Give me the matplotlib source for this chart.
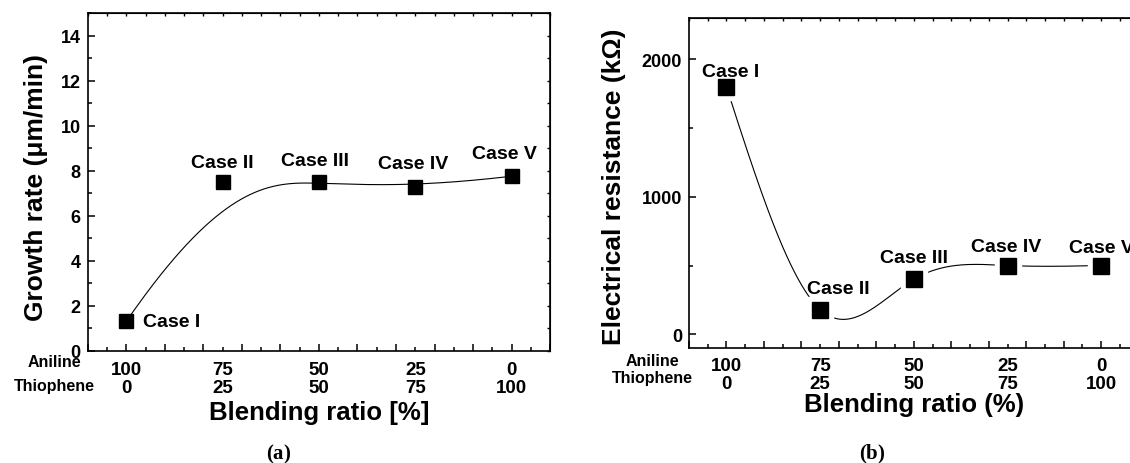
import numpy as np
import matplotlib.pyplot as plt
from matplotlib.ticker import MultipleLocator, NullFormatter

plt.rcParams['font.family'] = ['Liberation Sans', 'DejaVu Sans']
plt.rcParams['font.weight'] = 'bold'
plt.rcParams['mathtext.fontset'] = 'custom'
plt.rcParams['mathtext.rm'] = 'Liberation Serif'
plt.rcParams['mathtext.bf'] = 'Liberation Serif:bold'

# data
aniline = [100, 75, 50, 25, 0]
thiophene = [0, 25, 50, 75, 100]
cases = ['Case I', 'Case II', 'Case III', 'Case IV', 'Case V']
growth_rate = [1.3, 7.5, 7.5, 7.25, 7.75]        # um/min
resistance = [1800, 180, 400, 500, 500]           # kOhm

# where the case labels sit relative to their point (points)
offs_a = [(12, 0, 'left'), (0, 14, 'center'), (-3, 15.4, 'center'),
          (-1.7, 17.6, 'center'), (-5.4, 16.1, 'center')]
offs_b = [(3.2, 11.3), (13.3, 15.1), (0, 15.4), (-0.8, 13.5), (0, 13)]


def bspline_curve(xs, ys, n=300, k=3):
    # clamped cubic B-spline with the data points as control points
    pts = np.column_stack([xs, ys]).astype(float)
    m = len(pts)
    knots = np.concatenate([np.zeros(k), np.linspace(0, 1, m - k + 1), np.ones(k)])
    t = np.linspace(0, 1 - 1e-9, n)

    def N(i, p):
        if p == 0:
            return ((knots[i] <= t) & (t < knots[i + 1])).astype(float)
        out = np.zeros_like(t)
        d1 = knots[i + p] - knots[i]
        if d1 > 0:
            out += (t - knots[i]) / d1 * N(i, p - 1)
        d2 = knots[i + p + 1] - knots[i + 1]
        if d2 > 0:
            out += (knots[i + p + 1] - t) / d2 * N(i + 1, p - 1)
        return out

    B = np.array([N(i, k) for i in range(m)])
    c = B.T @ pts
    return c[:, 0], c[:, 1]


def natural_spline(xs, ys, n=300):
    x = np.asarray(xs, float)
    y = np.asarray(ys, float)
    o = np.argsort(x)
    x, y = x[o], y[o]
    h = np.diff(x)
    m = len(x)
    A = np.zeros((m, m))
    r = np.zeros(m)
    A[0, 0] = A[-1, -1] = 1
    for i in range(1, m - 1):
        A[i, i - 1] = h[i - 1]
        A[i, i] = 2 * (h[i - 1] + h[i])
        A[i, i + 1] = h[i]
        r[i] = 6 * ((y[i + 1] - y[i]) / h[i] - (y[i] - y[i - 1]) / h[i - 1])
    M = np.linalg.solve(A, r)
    xx = np.linspace(x[0], x[-1], n)
    j = np.clip(np.searchsorted(x, xx) - 1, 0, m - 2)
    x0, x1 = x[j], x[j + 1]
    hh = x1 - x0
    yy = ((M[j] * (x1 - xx) ** 3 + M[j + 1] * (xx - x0) ** 3) / (6 * hh)
          + (y[j] / hh - M[j] * hh / 6) * (x1 - xx)
          + (y[j + 1] / hh - M[j + 1] * hh / 6) * (xx - x0))
    return xx, yy


def style(ax, ylim, ymaj, ymin, right_step=None):
    ax.set_xlim(110, -10)
    ax.set_ylim(*ylim)
    ax.xaxis.set_major_locator(MultipleLocator(10))
    ax.xaxis.set_minor_locator(MultipleLocator(5))
    ax.xaxis.set_major_formatter(NullFormatter())
    ax.yaxis.set_major_locator(MultipleLocator(ymaj))
    ax.yaxis.set_minor_locator(MultipleLocator(ymin))
    ax.tick_params(which='major', direction='in', length=5, width=1.1,
                   labelsize=13, pad=5)
    ax.tick_params(which='minor', direction='in', length=2.7, width=1.1)
    for s in ax.spines.values():
        s.set_linewidth(1.2)
    top = ax.secondary_xaxis('top')
    top.xaxis.set_major_locator(MultipleLocator(5))
    top.tick_params(direction='in', length=2, width=1, labeltop=False)
    if right_step:
        rt = ax.secondary_yaxis('right')
        rt.yaxis.set_major_locator(MultipleLocator(right_step))
        rt.tick_params(direction='in', length=2, width=1, labelright=False)


def bottom_rows(ax, dy1, dy2, xl, dya, dyt, dylab, xlabel):
    tr = ax.get_xaxis_transform()
    for a, t in zip(aniline, thiophene):
        ax.annotate(str(a), xy=(a, 0), xycoords=tr, xytext=(0, -dy1),
                    textcoords='offset points', ha='center', va='baseline',
                    fontsize=13.5, annotation_clip=False)
        ax.annotate(str(t), xy=(a, 0), xycoords=tr, xytext=(0, -dy2),
                    textcoords='offset points', ha='center', va='baseline',
                    fontsize=13.5, annotation_clip=False)
    ax.annotate('Aniline', xy=(0, 0), xycoords='axes fraction', xytext=(xl, -dya),
                textcoords='offset points', ha='center', va='baseline', fontsize=11.5)
    ax.annotate('Thiophene', xy=(0, 0), xycoords='axes fraction', xytext=(xl, -dyt),
                textcoords='offset points', ha='center', va='baseline', fontsize=11.5)
    ax.annotate(xlabel, xy=(0.5, 0), xycoords='axes fraction', xytext=(0, -dylab),
                textcoords='offset points', ha='center', va='baseline', fontsize=18.5)


fig = plt.figure(figsize=(11.3, 4.64), dpi=100)

# (a) growth rate
ax1 = fig.add_axes([0.0776, 0.242, 0.4093, 0.7278])
cx, cy = bspline_curve(aniline, growth_rate)
ax1.plot(cx, cy, color='k', lw=0.8, zorder=2)
ax1.plot(aniline, growth_rate, 's', color='k', ms=10.5, zorder=3)
for x, y, name, (dx, dy, ha) in zip(aniline, growth_rate, cases, offs_a):
    ax1.annotate(name, xy=(x, y), xytext=(dx, dy), textcoords='offset points',
                 ha=ha, va='center', fontsize=14, zorder=4)
style(ax1, (0, 15), 2, 1, right_step=1)
ax1.set_ylabel('Growth rate (μm/min)', fontsize=19, fontweight='bold', va='center')
ax1.yaxis.set_label_coords(-0.112, 0.486)
bottom_rows(ax1, 16.8, 30, -24.3, 10.8, 28.1, 49.2, 'Blending ratio [%]')

# (b) electrical resistance
ax2 = fig.add_axes([0.6097, 0.2478, 0.398, 0.7112])
sx, sy = natural_spline(aniline, resistance)
ax2.plot(sx, sy, color='k', lw=0.8, zorder=2)
ax2.plot(aniline, resistance, 's', color='white', ms=19, zorder=2.5)
ax2.plot(aniline, resistance, 's', color='k', ms=11, zorder=3)
for x, y, name, (dx, dy) in zip(aniline, resistance, cases, offs_b):
    ax2.annotate(name, xy=(x, y), xytext=(dx, dy), textcoords='offset points',
                 ha='center', va='center', fontsize=14, zorder=4)
style(ax2, (-100, 2300), 1000, 500)
ax2.set_ylabel('Electrical resistance (kΩ)', fontsize=19, fontweight='bold', va='center')
ax2.yaxis.set_label_coords(-0.1676, 0.491)
bottom_rows(ax2, 15.8, 29, -26, 12.2, 24.7, 45, 'Blending ratio (%)')

fig.text(279 / 1130, 0.021, r'$\mathrm{(}\mathbf{a}\mathrm{)}$', ha='center', va='center', fontsize=15)
fig.text(872 / 1130, 0.021, r'$\mathrm{(}\mathbf{b}\mathrm{)}$', ha='center', va='center', fontsize=15)

fig.savefig('out.png', dpi=100)
